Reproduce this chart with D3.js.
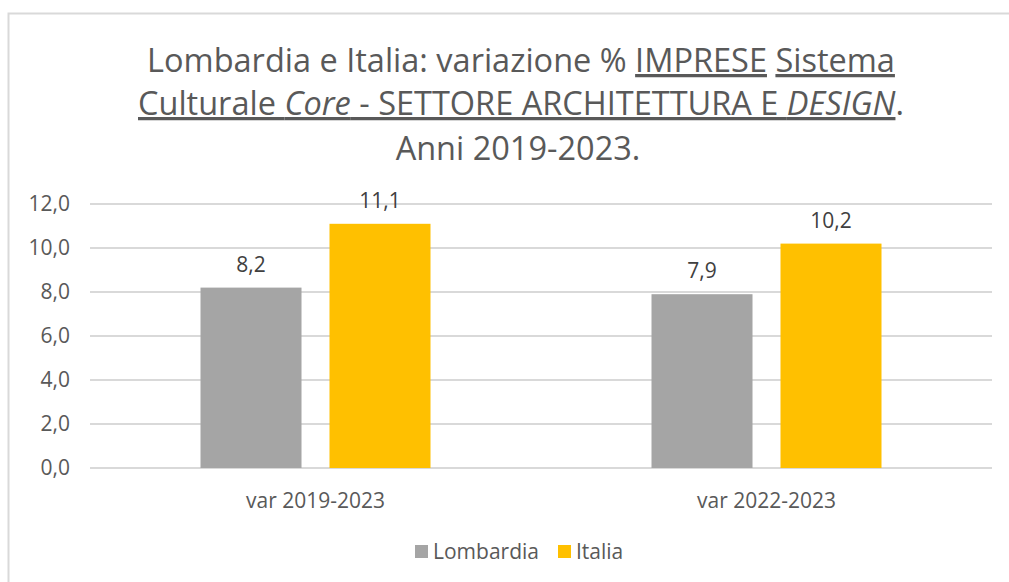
<!DOCTYPE html>
<html>
<head>
<meta charset="utf-8">
<script src="https://cdn.jsdelivr.net/npm/d3@7"></script>
<style>
  body { margin: 0; background: #fff; }
  svg { display: block; font-family: "Open Sans", Lato, sans-serif; }
</style>
</head>
<body>
<script>
// data
const categories = ["var 2019-2023", "var 2022-2023"];
const seriesNames = ["Lombardia", "Italia"];
const lombardia = [8.2, 7.9];
const italia = [11.1, 10.2];
const yTicks = [0, 2, 4, 6, 8, 10, 12];
const colors = ["#a5a5a5", "#ffc000"];

const w = 1009;
const h = 582;
const margin = { top: 204, right: 17, bottom: 114, left: 90 };

const it = d3.formatLocale({ decimal: ",", thousands: ".", grouping: [3], currency: ["€", ""] });
const fmt = it.format(".1f");

const svg = d3.select("body").append("svg").attr("width", w).attr("height", h);

// chart border
svg.append("rect")
  .attr("x", 8.5).attr("y", 13.5)
  .attr("width", w + 20).attr("height", h + 20)
  .attr("fill", "#fff")
  .attr("stroke", "#d9d9d9")
  .attr("stroke-width", 2);

// title
const title = svg.append("text")
  .attr("text-anchor", "middle")
  .attr("fill", "#595959")
  .style("font-size", "32.5px");

const l1 = title.append("tspan").attr("x", 521).attr("y", 72);
l1.append("tspan").text("Lombardia e Italia: variazione % ");
l1.append("tspan").attr("text-decoration", "underline").text("IMPRESE");
l1.append("tspan").text(" ");
l1.append("tspan").attr("text-decoration", "underline").text("Sistema");

const l2 = title.append("tspan").attr("x", 521).attr("y", 115);
l2.append("tspan").attr("text-decoration", "underline").text("Culturale ");
l2.append("tspan").attr("text-decoration", "underline").style("font-style", "italic").text("Core");
l2.append("tspan").attr("text-decoration", "underline").text(" - SETTORE ARCHITETTURA E ");
l2.append("tspan").attr("text-decoration", "underline").style("font-style", "italic").text("DESIGN");
l2.append("tspan").text(".");

title.append("tspan").attr("x", 518).attr("y", 160).text("Anni 2019-2023.");

// scales
const x0 = d3.scaleBand()
  .domain(categories)
  .range([margin.left, w - margin.right]);

const x1 = d3.scaleBand()
  .domain(seriesNames)
  .range([0, 230])
  .paddingInner(0.217);

const y = d3.scaleLinear()
  .domain([0, 12])
  .range([h - margin.bottom, margin.top]);

// gridlines
svg.append("g")
  .selectAll("line")
  .data(yTicks)
  .join("line")
  .attr("x1", margin.left)
  .attr("x2", w - margin.right)
  .attr("y1", d => y(d))
  .attr("y2", d => y(d))
  .attr("stroke", "#d9d9d9")
  .attr("stroke-width", 2);

// y axis labels
const yAxis = svg.append("g")
  .attr("transform", `translate(${margin.left - 20},0)`)
  .call(d3.axisLeft(y).tickValues(yTicks).tickFormat(fmt).tickSize(0).tickPadding(0));
yAxis.select(".domain").remove();
yAxis.selectAll("text")
  .attr("fill", "#595959")
  .style("font-size", "21px")
  .style("font-family", "'Open Sans', Lato, sans-serif");

// bars
const rows = categories.map((c, i) => ({ cat: c, values: [lombardia[i], italia[i]] }));

const groups = svg.append("g")
  .selectAll("g")
  .data(rows)
  .join("g")
  .attr("transform", d => `translate(${x0(d.cat) + x0.bandwidth() / 2 - 115},0)`);

groups.selectAll("rect")
  .data(d => d.values.map((v, j) => ({ name: seriesNames[j], v, j })))
  .join("rect")
  .attr("x", d => x1(d.name))
  .attr("y", d => y(d.v))
  .attr("width", x1.bandwidth())
  .attr("height", d => y(0) - y(d.v))
  .attr("fill", d => colors[d.j]);

groups.selectAll("text.lbl")
  .data(d => d.values.map((v, j) => ({ name: seriesNames[j], v, j })))
  .join("text")
  .attr("class", "lbl")
  .attr("x", d => x1(d.name) + x1.bandwidth() / 2)
  .attr("y", d => y(d.v) - 16)
  .attr("text-anchor", "middle")
  .attr("fill", "#404040")
  .style("font-size", "21px")
  .text(d => fmt(d.v));

// category labels
svg.append("g")
  .selectAll("text")
  .data(categories)
  .join("text")
  .attr("x", d => x0(d) + x0.bandwidth() / 2)
  .attr("y", 508)
  .attr("text-anchor", "middle")
  .attr("fill", "#595959")
  .style("font-size", "21px")
  .text(d => d);

// legend
const legend = svg.append("g").attr("transform", "translate(415,551)");
const legendX = [0, 143];
seriesNames.forEach((name, i) => {
  legend.append("rect")
    .attr("x", legendX[i]).attr("y", -6)
    .attr("width", 13).attr("height", 13)
    .attr("fill", colors[i]);
  legend.append("text")
    .attr("x", legendX[i] + 18).attr("y", 8)
    .attr("fill", "#595959")
    .style("font-size", "21px")
    .text(name);
});
</script>
</body>
</html>
